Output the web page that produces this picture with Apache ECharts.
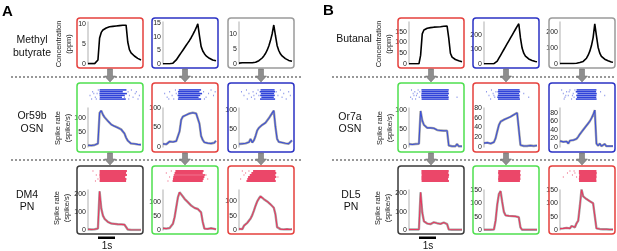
<!DOCTYPE html>
<html>
<head>
<meta charset="utf-8">
<script src="https://cdn.jsdelivr.net/npm/echarts@6/dist/echarts.min.js"></script>
<style>
  html, body { margin: 0; padding: 0; background: #fff; }
  #chart { width: 617px; height: 251px; }
</style>
</head>
<body>
<div id="chart"></div>
<script>
  // shared time base (s) for every trace
  const times = [0, 0.1, 0.2, 0.3, 0.4, 0.5, 0.6, 0.7, 0.8, 0.9, 1.0, 1.1, 1.2, 1.3, 1.4, 1.5,
    1.6, 1.7, 1.8, 1.9, 2.0, 2.1, 2.2, 2.3, 2.4, 2.5, 2.6, 2.7, 2.8, 2.9, 3.0, 3.1, 3.2]

  // tick labels
  const ticks_0_5_10 = [0, 5, 10]
  const ticks_0_5_10_15 = [0, 5, 10, 15]
  const ticks_0_50_150 = [0, 50, 100, 150]
  const ticks_0_100_200 = [0, 100, 200]
  const ticks_0_50_100 = [0, 50, 100]
  const ticks_0_20_80 = [0, 20, 40, 60, 80]

  // odor concentration (ppm)
  const concA_step = [0.1, 0.1, 0.1, 0.1, 0.1, 0.2, 1.0, 6.5, 7.9, 8.5, 8.8, 9.0, 9.2, 9.3, 9.4, 9.4,
    9.5, 9.5, 9.6, 9.6, 9.7, 9.7, 9.8, 9.7, 5.5, 3.6, 2.8, 2.4, 2.0, 1.7, 1.4, 1.2, 1.0]
  const concA_ramp = [0.1, 0.1, 0.1, 0.1, 0.1, 0.2, 0.3, 0.8, 1.5, 2.4, 3.3, 4.2, 5.1, 6.0, 6.9, 7.8,
    8.7, 9.7, 10.8, 12.0, 13.3, 14.8, 10.5, 6.5, 4.8, 3.8, 3.0, 2.5, 2.1, 1.8, 1.5, 1.3, 1.2]
  const concA_peak = [0.3, 0.3, 0.4, 0.5, 0.4, 0.5, 0.4, 0.4, 0.4, 0.5, 0.6, 0.8, 1.1, 1.5, 2.0, 2.7,
    3.5, 4.6, 6.0, 7.8, 10.0, 13.0, 9.5, 6.2, 4.5, 3.4, 2.7, 2.2, 1.8, 1.5, 1.2, 1.0, 0.9]
  const concB_step = [1, 1, 1, 1, 1, 1, 1, 40, 140, 158, 163, 166, 168, 169, 170, 171,
    172, 172, 173, 173, 174, 175, 175, 176, 120, 50, 32, 25, 21, 17, 15, 12, 10]
  const concB_ramp = [2, 2, 2, 2, 2, 2, 2, 5, 20, 40, 60, 80, 100, 120, 140, 160,
    180, 200, 220, 240, 260, 278, 180, 110, 75, 55, 43, 35, 29, 24, 20, 17, 15]
  const concB_peak = [3, 3, 3, 3, 3, 3, 3, 3, 3, 4, 5, 7, 9, 12, 16, 24,
    36, 55, 80, 115, 165, 250, 175, 105, 68, 48, 37, 30, 25, 20, 16, 13, 11]

  // spike rates (spike/s)
  const rateA_Or59b_step = [6, 9, 5, 10, 7, 9, 12, 118, 126, 112, 103, 99, 90, 88, 78, 80,
    72, 75, 67, 66, 61, 58, 47, 32, 22, 16, 12, 9, 11, 7, 9, 6, 8]
  const rateA_Or59b_ramp = [8, 12, 7, 11, 14, 9, 13, 10, 15, 20, 40, 70, 78, 76, 82, 80,
    86, 83, 88, 84, 86, 82, 60, 28, 18, 12, 15, 10, 13, 9, 14, 11, 16]
  const rateA_Or59b_peak = [8, 12, 9, 14, 10, 8, 13, 22, 12, 18, 30, 45, 52, 56, 60, 64,
    66, 72, 78, 85, 92, 99, 55, 22, 14, 10, 12, 8, 10, 7, 9, 14, 18]
  const rateA_DM4_step = [4, 5, 3, 5, 4, 5, 8, 215, 120, 80, 62, 52, 45, 40, 36, 33,
    34, 30, 32, 29, 31, 28, 30, 22, 3, 0, 0, 0, 0, 0, 0, 0, 0]
  const rateA_DM4_ramp = [6, 8, 5, 9, 7, 10, 22, 45, 80, 115, 133, 128, 118, 110, 104, 98,
    92, 86, 82, 78, 76, 74, 70, 62, 28, 5, 3, 4, 2, 6, 3, 4, 2]
  const rateA_DM4_peak = [4, 6, 3, 15, 8, 25, 18, 40, 52, 68, 85, 100, 110, 118, 115, 108,
    104, 100, 96, 90, 84, 78, 55, 10, 4, 3, 5, 2, 4, 3, 5, 2, 3]
  const rateB_Or7a_step = [8, 10, 7, 9, 8, 10, 9, 98, 72, 60, 56, 52, 50, 52, 47, 51,
    48, 46, 50, 45, 49, 44, 48, 44, 4, 2, 2, 3, 2, 8, 2, 2, 2]
  const rateB_Or7a_ramp = [8, 12, 9, 13, 7, 11, 10, 18, 32, 45, 52, 55, 56, 58, 59, 61,
    62, 64, 66, 68, 70, 74, 4, 2, 2, 5, 2, 2, 3, 2, 2, 4, 3]
  const rateB_Or7a_peak = [14, 18, 12, 16, 13, 8, 15, 11, 16, 14, 19, 24, 30, 35, 40, 44,
    50, 55, 60, 67, 75, 86, 8, 3, 8, 2, 3, 7, 2, 3, 2, 3, 2]
  const rateB_DL5_step = [3, 3, 3, 3, 3, 3, 3, 205, 95, 48, 38, 35, 40, 32, 38, 42,
    34, 37, 40, 33, 38, 41, 35, 32, 3, 1, 1, 1, 1, 1, 1, 1, 1]
  const rateB_DL5_ramp = [1, 1, 1, 1, 1, 1, 2, 35, 95, 135, 146, 105, 68, 55, 50, 53,
    48, 52, 47, 51, 49, 48, 10, 1, 1, 1, 1, 1, 1, 1, 1, 1, 1]
  const rateB_DL5_peak = [5, 3, 6, 4, 8, 12, 6, 15, 22, 10, 25, 35, 90, 152, 126, 120,
    116, 112, 108, 105, 100, 96, 6, 3, 4, 2, 3, 2, 3, 2, 2, 2, 2]

  // rasters: dense firing per trial [start, end] (s), sparse spikes [t, trial]
  const rasterA_Or59b_step = [[0.70, 2.32], [0.70, 2.10], [0.69, 2.35], [0.70, 2.22], [0.71, 2.05], [0.70, 2.28]]
  const sparseA_Or59b_step = [[0.12, 3], [0.28, 1], [0.44, 4], [0.55, 2], [0.62, 0], [0.22, 5], [0.5, 5], [0.35, 2],
    [2.42, 1], [2.5, 3], [2.62, 0], [2.72, 4], [2.85, 2], [3.02, 5], [2.46, 5], [2.92, 1], [3.1, 3], [2.2, 4]]
  const rasterA_Or59b_ramp = [[0.95, 2.30], [0.90, 2.20], [0.92, 2.36], [0.88, 2.25], [0.93, 2.15], [0.90, 2.30]]
  const sparseA_Or59b_ramp = [[0.1, 2], [0.25, 4], [0.4, 1], [0.55, 3], [0.65, 5], [0.75, 0], [0.8, 2], [0.35, 5],
    [2.45, 1], [2.6, 4], [2.75, 2], [2.9, 0], [3.05, 3], [2.5, 5], [3.15, 1]]
  const rasterA_Or59b_peak = [[1.30, 2.15], [1.25, 2.18], [1.32, 2.12], [1.28, 2.16], [1.35, 2.10], [1.27, 2.18]]
  const sparseA_Or59b_peak = [[0.15, 1], [0.3, 3], [0.45, 0], [0.6, 2], [0.75, 4], [0.85, 1], [0.95, 5], [1.05, 2],
    [1.15, 0], [1.2, 3], [0.5, 5], [0.9, 3], [2.25, 1], [2.35, 3], [2.5, 0], [2.6, 4], [2.7, 2], [2.85, 5], [3.0, 1], [3.1, 3]]
  const rasterA_DM4_step = [[0.70, 2.35], [0.70, 2.30], [0.69, 2.35], [0.70, 2.25], [0.71, 2.32], [0.70, 2.30]]
  const sparseA_DM4_step = [[0.3, 0], [0.5, 2], [0.6, 4], [0.45, 5]]
  const rasterA_DM4_ramp = [[0.75, 2.45], [0.70, 2.40], [0.65, 2.55], [0.62, 2.50], [0.60, 2.45], [0.58, 2.40]]
  const sparseA_DM4_ramp = [[0.2, 1], [0.4, 3], [0.5, 0], [2.6, 2], [2.7, 4], [0.3, 5]]
  const rasterA_DM4_peak = [[0.85, 2.20], [0.75, 2.25], [0.65, 2.20], [0.55, 2.25], [0.50, 2.18], [0.45, 2.22]]
  const sparseA_DM4_peak = [[0.2, 0], [0.4, 1], [0.6, 0], [0.3, 2], [2.35, 3], [0.1, 4]]
  const rasterB_Or7a_step = [[0.75, 2.40], [0.76, 2.38], [0.75, 2.41], [0.74, 2.36], [0.75, 2.40], [0.76, 2.39]]
  const sparseB_Or7a_step = [[0.15, 0], [0.25, 2], [0.35, 1], [0.45, 3], [0.55, 0], [0.62, 4], [0.2, 5], [0.4, 5],
    [0.5, 2], [0.3, 3], [0.65, 1], [0.1, 4], [2.9, 4]]
  const rasterB_Or7a_ramp = [[0.85, 2.15], [0.82, 2.18], [0.86, 2.12], [0.83, 2.16], [0.80, 2.14], [0.84, 2.17]]
  const sparseB_Or7a_ramp = [[0.15, 1], [0.3, 3], [0.45, 0], [0.55, 2], [0.65, 4], [0.72, 1], [0.4, 5], [0.6, 3], [2.7, 4], [2.4, 2]]
  const rasterB_Or7a_peak = [[1.00, 2.20], [0.95, 2.18], [1.05, 2.22], [0.98, 2.20], [1.02, 2.19], [0.96, 2.21]]
  const sparseB_Or7a_peak = [[0.1, 0], [0.2, 2], [0.3, 4], [0.4, 1], [0.5, 3], [0.6, 0], [0.7, 5], [0.8, 2], [0.85, 4],
    [0.25, 5], [0.55, 1], [0.75, 3], [0.9, 0], [0.35, 3], [2.7, 3], [2.45, 1]]
  const rasterB_DL5_step = [[0.75, 2.40], [0.75, 2.38], [0.76, 2.42], [0.75, 2.40], [0.75, 2.36], [0.76, 2.41]]
  const sparseB_DL5_step = []
  const rasterB_DL5_ramp = [[0.86, 2.20], [0.85, 2.18], [0.87, 2.21], [0.86, 2.19], [0.85, 2.20], [0.86, 2.17]]
  const sparseB_DL5_ramp = []
  const rasterB_DL5_peak = [[1.14, 2.20], [1.14, 2.22], [1.16, 2.20], [1.15, 2.21], [1.14, 2.19], [1.15, 2.20]]
  const sparseB_DL5_peak = [[0.2, 3], [0.45, 1], [0.6, 0], [0.75, 2], [0.9, 1], [1.0, 3], [0.85, 0]]

  // layout
  const FONT = '"Liberation Sans", Arial, sans-serif'
  const RED = '#e5403d', BLUE = '#2b32c4', GRAY = '#9b9b9b', GREEN = '#4fdf4f', DARK = '#3a3a3a'
  const OSN = '#3d50d6', PN = '#e6395f', RASTER_OSN = '#2f43d9', RASTER_PN = '#e8264f'
  const colA = [77, 152, 228]
  const colB = [398, 473, 549]
  const rowTop = [18, 83, 166]
  const rowH = [50, 69, 68]
  const boxW = 66
  const plotTop = [22, 108, 190]
  const plotH = [42, 39, 40]
  const rasterTop = [0, 89, 170]
  const rasterH = [0, 11, 12]

  const panels = [
    { x: colA[0], row: 0, box: RED, data: concA_step, max: 10.5, ticks: ticks_0_5_10 },
    { x: colA[1], row: 0, box: BLUE, data: concA_ramp, max: 15.5, ticks: ticks_0_5_10_15 },
    { x: colA[2], row: 0, box: GRAY, data: concA_peak, max: 14, ticks: ticks_0_5_10 },
    { x: colA[0], row: 1, box: GREEN, data: rateA_Or59b_step, max: 135, ticks: ticks_0_50_100, color: OSN, rc: RASTER_OSN, raster: rasterA_Or59b_step, sparse: sparseA_Or59b_step },
    { x: colA[1], row: 1, box: RED, data: rateA_Or59b_ramp, max: 100, ticks: ticks_0_50_100, color: OSN, rc: RASTER_OSN, raster: rasterA_Or59b_ramp, sparse: sparseA_Or59b_ramp },
    { x: colA[2], row: 1, box: BLUE, data: rateA_Or59b_peak, max: 106, ticks: ticks_0_50_100, color: OSN, rc: RASTER_OSN, raster: rasterA_Or59b_peak, sparse: sparseA_Or59b_peak },
    { x: colA[0], row: 2, box: DARK, data: rateA_DM4_step, max: 222, ticks: ticks_0_100_200, color: PN, rc: RASTER_PN, raster: rasterA_DM4_step, sparse: sparseA_DM4_step },
    { x: colA[1], row: 2, box: GREEN, data: rateA_DM4_ramp, max: 141, ticks: ticks_0_50_100, color: PN, rc: RASTER_PN, raster: rasterA_DM4_ramp, sparse: sparseA_DM4_ramp },
    { x: colA[2], row: 2, box: RED, data: rateA_DM4_peak, max: 140, ticks: ticks_0_50_100, color: PN, rc: RASTER_PN, raster: rasterA_DM4_peak, sparse: sparseA_DM4_peak },
    { x: colB[0], row: 0, box: RED, data: concB_step, max: 195, ticks: ticks_0_50_150 },
    { x: colB[1], row: 0, box: BLUE, data: concB_ramp, max: 290, ticks: ticks_0_100_200 },
    { x: colB[2], row: 0, box: GRAY, data: concB_peak, max: 262, ticks: ticks_0_100_200 },
    { x: colB[0], row: 1, box: GREEN, data: rateB_Or7a_step, max: 106, ticks: ticks_0_50_100, color: OSN, rc: RASTER_OSN, raster: rasterB_Or7a_step, sparse: sparseB_Or7a_step },
    { x: colB[1], row: 1, box: RED, data: rateB_Or7a_ramp, max: 80, ticks: ticks_0_20_80, color: OSN, rc: RASTER_OSN, raster: rasterB_Or7a_ramp, sparse: sparseB_Or7a_ramp },
    { x: colB[2], row: 1, box: BLUE, data: rateB_Or7a_peak, max: 91, ticks: ticks_0_20_80, color: OSN, rc: RASTER_OSN, raster: rasterB_Or7a_peak, sparse: sparseB_Or7a_peak },
    { x: colB[0], row: 2, box: DARK, data: rateB_DL5_step, max: 218, ticks: ticks_0_100_200, color: PN, rc: RASTER_PN, raster: rasterB_DL5_step, sparse: sparseB_DL5_step },
    { x: colB[1], row: 2, box: GREEN, data: rateB_DL5_ramp, max: 150, ticks: ticks_0_50_150, color: PN, rc: RASTER_PN, raster: rasterB_DL5_ramp, sparse: sparseB_DL5_ramp },
    { x: colB[2], row: 2, box: RED, data: rateB_DL5_peak, max: 150, ticks: ticks_0_50_150, color: PN, rc: RASTER_PN, raster: rasterB_DL5_peak, sparse: sparseB_DL5_peak }
  ]

  function renderTrial(params, api) {
    const p0 = api.coord([api.value(0), api.value(2)])
    const p1 = api.coord([api.value(1), api.value(2)])
    const h = api.size([0, 1])[1] * 0.85
    return {
      type: 'rect',
      shape: { x: p0[0], y: p0[1] - h / 2, width: p1[0] - p0[0], height: h },
      style: { fill: api.visual('color') }
    }
  }

  const grid = [], xAxis = [], yAxis = [], series = [], graphic = []

  panels.forEach(p => {
    const gi = grid.length
    grid.push({ left: p.x + 11, top: plotTop[p.row], width: boxW - 13, height: plotH[p.row] })
    xAxis.push({ gridIndex: gi, type: 'value', min: 0, max: 3.2, show: false })
    yAxis.push({
      gridIndex: gi, type: 'value', min: 0, max: p.max,
      axisLine: { show: true, lineStyle: { color: '#cacaca', width: 1.5 } },
      axisTick: { show: false },
      splitLine: { show: false },
      axisLabel: { customValues: p.ticks, fontSize: 7, color: '#222', margin: 2, fontFamily: FONT }
    })
    const pts = times.map((t, i) => [t, p.data[i]])
    if (p.row === 0) {
      series.push({ type: 'line', xAxisIndex: gi, yAxisIndex: gi, data: pts, symbol: 'none',
        lineStyle: { color: '#000', width: 1.6 } })
    } else {
      // SEM band drawn as a gray halo behind the mean trace
      series.push({ type: 'line', xAxisIndex: gi, yAxisIndex: gi, data: pts, symbol: 'none',
        lineStyle: { color: '#7d7d7d', width: 2.4, opacity: 0.7 } })
      series.push({ type: 'line', xAxisIndex: gi, yAxisIndex: gi, data: pts, symbol: 'none',
        lineStyle: { color: p.color, width: 1.1 } })
      // raster above the rate trace
      const ri = grid.length
      grid.push({ left: p.x + 11, top: rasterTop[p.row], width: boxW - 13, height: rasterH[p.row] })
      xAxis.push({ gridIndex: ri, type: 'value', min: 0, max: 3.2, show: false })
      yAxis.push({ gridIndex: ri, type: 'value', min: -0.5, max: 5.5, inverse: true, show: false })
      series.push({ type: 'custom', xAxisIndex: ri, yAxisIndex: ri, renderItem: renderTrial,
        itemStyle: { color: p.rc }, encode: { x: [0, 1], y: 2 },
        data: p.raster.map((d, i) => [d[0], d[1], i]) })
      series.push({ type: 'scatter', xAxisIndex: ri, yAxisIndex: ri, data: p.sparse,
        symbol: 'rect', symbolSize: [1, 1.5], itemStyle: { color: p.rc, opacity: 0.55 } })
    }
    graphic.push({ type: 'rect', shape: { x: p.x, y: rowTop[p.row], width: boxW, height: rowH[p.row], r: 3 },
      style: { fill: 'none', stroke: p.box, lineWidth: 1.5 }, z: 10 })
    // arrow to the next row
    if (p.row < 2) {
      const cx = p.x + boxW / 2, y1 = rowTop[p.row] + rowH[p.row] + 1, y2 = rowTop[p.row + 1] - 1, ym = y2 - 6
      graphic.push({ type: 'polygon', z: 12,
        shape: { points: [[cx - 2.5, y1], [cx + 2.5, y1], [cx + 2.5, ym], [cx + 5.5, ym], [cx, y2], [cx - 5.5, ym], [cx - 2.5, ym]] },
        style: { fill: '#8e8e8e', stroke: '#666', lineWidth: 0.5 } })
    }
  })

  // dashed separators
  ;[77, 160].forEach(y => {
    graphic.push({ type: 'line', shape: { x1: 11, y1: y, x2: 301, y2: y }, style: { stroke: '#333', lineWidth: 1, lineDash: [2, 2] } })
    graphic.push({ type: 'line', shape: { x1: 332, y1: y, x2: 616, y2: y }, style: { stroke: '#333', lineWidth: 1, lineDash: [2, 2] } })
  })

  function text(x, y, str, size, extra) {
    return Object.assign({ type: 'text', x, y, z: 20,
      style: { text: str, fontSize: size, fontFamily: FONT, fill: '#111', align: 'center', verticalAlign: 'middle', lineHeight: size * 1.2 } }, extra || {})
  }
  function ytitle(x, y, str) {
    return { type: 'text', x, y, rotation: Math.PI / 2, z: 20,
      style: { text: str, fontSize: 7.5, fontFamily: FONT, fill: '#222', align: 'center', verticalAlign: 'middle', lineHeight: 9.5 } }
  }

  graphic.push(
    { type: 'text', x: 2, y: 4, style: { text: 'A', fontSize: 15, fontWeight: 'bold', fontFamily: FONT, fill: '#000' } },
    { type: 'text', x: 323, y: 3, style: { text: 'B', fontSize: 15, fontWeight: 'bold', fontFamily: FONT, fill: '#000' } },
    text(32, 46.5, 'Methyl\nbutyrate', 10.5),
    text(32, 122.5, 'Or59b\nOSN', 10.5),
    text(27, 201, 'DM4\nPN', 10.5),
    text(354, 39, 'Butanal', 10.5),
    text(350, 123, 'Or7a\nOSN', 10.5),
    text(351, 201, 'DL5\nPN', 10.5),
    ytitle(64, 44, 'Concentration\n(ppm)'),
    ytitle(63, 128, 'Spike rate\n(spike/s)'),
    ytitle(62, 208, 'Spike rate\n(spike/s)'),
    ytitle(384, 44, 'Concentration\n(ppm)'),
    ytitle(385, 128, 'Spike rate\n(spike/s)'),
    ytitle(383, 208, 'Spike rate\n(spike/s)'),
    // 1 s scale bars
    { type: 'rect', shape: { x: 98, y: 236.5, width: 17, height: 2.5 }, style: { fill: '#000' } },
    { type: 'rect', shape: { x: 419, y: 236.5, width: 17, height: 2.5 }, style: { fill: '#000' } },
    text(107, 246, '1s', 10),
    text(428, 246, '1s', 10)
  )

  const chart = echarts.init(document.getElementById('chart'))
  chart.setOption({
    animation: false,
    backgroundColor: '#fff',
    grid, xAxis, yAxis, series, graphic
  })
</script>
</body>
</html>
